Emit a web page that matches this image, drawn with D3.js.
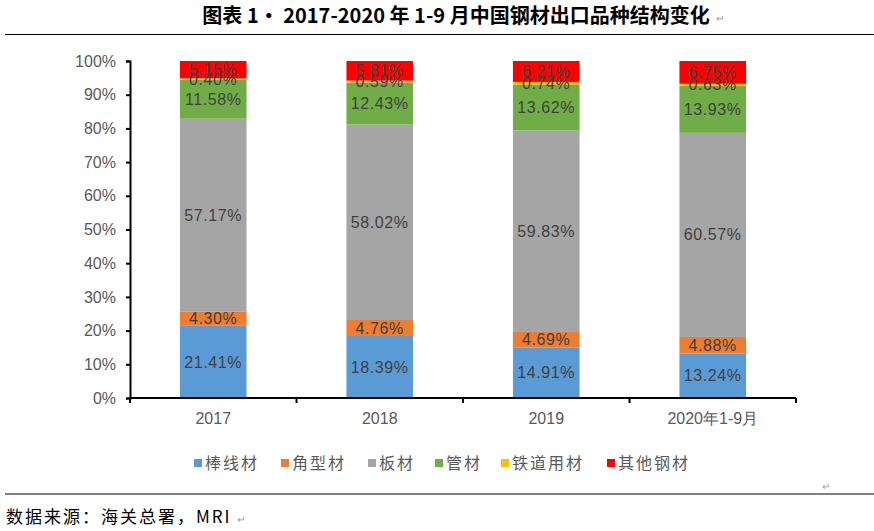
<!DOCTYPE html>
<html>
<head>
<meta charset="utf-8">
<title>2017-2020年1-9月中国钢材出口品种结构变化</title>
<script src="https://cdn.jsdelivr.net/npm/d3@7"></script>
<style>
  body { margin: 0; background: #fff; }
  svg text { font-family: "Liberation Sans", Arial, sans-serif; }
  .cjk { font-family: "Noto Sans CJK SC", sans-serif; }
</style>
</head>
<body>
<div id="chart"></div>
<script>
// categories and series (share of exports, %)
var years = ["2017", "2018", "2019", "2020年1-9月"];
var seriesNames = ["棒线材", "角型材", "板材", "管材", "铁道用材", "其他钢材"];
var seriesColors = ["#5B9BD5", "#ED7D31", "#A5A5A5", "#70AD47", "#FFC000", "#FF0000"];
var bar = [21.41, 18.39, 14.91, 13.24];      // 棒线材
var angle = [4.30, 4.76, 4.69, 4.88];        // 角型材
var plate = [57.17, 58.02, 59.83, 60.57];    // 板材
var pipe = [11.58, 12.43, 13.62, 13.93];     // 管材
var rail = [0.40, 0.59, 0.74, 0.63];         // 铁道用材
var other = [5.15, 5.81, 6.21, 6.75];        // 其他钢材
var yTicks = [0, 10, 20, 30, 40, 50, 60, 70, 80, 90, 100];

var W = 874, H = 531;
var svg = d3.select("#chart").append("svg").attr("width", W).attr("height", H);

// title + rules
svg.append("text").attr("class", "cjk")
  .attr("x", 456).attr("y", 23).attr("text-anchor", "middle")
  .attr("font-size", 20).attr("font-weight", "bold").attr("fill", "#000")
  .text("图表 1· 2017-2020 年 1-9 月中国钢材出口品种结构变化");
svg.append("text").attr("x", 716).attr("y", 22).attr("font-size", 10).attr("fill", "#999").text("↵");
svg.append("line").attr("x1", 5).attr("x2", W).attr("y1", 34.5).attr("y2", 34.5)
  .attr("stroke", "#000").attr("stroke-width", 1);

// scales
var x = d3.scaleBand().domain(years).range([130, 796]).paddingInner(0.6).paddingOuter(0.3);
var y = d3.scaleLinear().domain([0, 100]).range([398, 61]);

// build stack rows
var rows = years.map(function(yr, i) {
  return { year: yr, s0: bar[i], s1: angle[i], s2: plate[i], s3: pipe[i], s4: rail[i], s5: other[i] };
});
var keys = ["s0", "s1", "s2", "s3", "s4", "s5"];
var stacked = d3.stack().keys(keys)(rows);

var layers = svg.append("g").selectAll("g").data(stacked).enter().append("g")
  .attr("fill", function(d, i) { return seriesColors[i]; });
layers.selectAll("rect").data(function(d) { return d; }).enter().append("rect")
  .attr("x", function(d) { return x(d.data.year); })
  .attr("width", x.bandwidth())
  .attr("y", function(d) { return y(d[1]); })
  .attr("height", function(d) { return y(d[0]) - y(d[1]); });

// data labels (centered in each segment, they overlap at the top as in the source)
var labels = svg.append("g");
stacked.forEach(function(layer) {
  layer.forEach(function(d) {
    labels.append("text")
      .attr("x", x(d.data.year) + x.bandwidth() / 2)
      .attr("y", y((d[0] + d[1]) / 2))
      .attr("dy", "0.35em")
      .attr("text-anchor", "middle")
      .attr("font-size", 16)
      .attr("letter-spacing", 0.6)
      .attr("fill", "#404040")
      .text(d.data[layer.key].toFixed(2) + "%");
  });
});

// axes
var yAxis = svg.append("g").attr("transform", "translate(130,0)")
  .call(d3.axisLeft(y).tickValues(yTicks).tickSize(4).tickPadding(10)
    .tickFormat(function(d) { return d + "%"; }));
var xAxis = svg.append("g").attr("transform", "translate(0,398)")
  .call(d3.axisBottom(x).tickSize(0).tickPadding(15));
[yAxis, xAxis].forEach(function(a) {
  a.select(".domain").attr("stroke", "#000").attr("stroke-width", 2);
  a.selectAll(".tick line").attr("stroke", "#000").attr("stroke-width", 2);
  a.selectAll("text").attr("font-size", 16).attr("fill", "#595959")
    .attr("font-family", "'Liberation Sans', 'Noto Sans CJK SC', sans-serif");
});
xAxis.select(".domain").remove();
// x baseline with category boundary ticks
svg.append("line").attr("x1", 130).attr("x2", 796).attr("y1", 398).attr("y2", 398)
  .attr("stroke", "#000").attr("stroke-width", 2);
svg.append("g").selectAll("line").data(d3.range(years.length + 1)).enter().append("line")
  .attr("x1", function(i) { return 130 + i * x.step(); })
  .attr("x2", function(i) { return 130 + i * x.step(); })
  .attr("y1", 398).attr("y2", 403)
  .attr("stroke", "#000").attr("stroke-width", 2);

// legend
var legendX = [194, 281, 368, 435, 501, 607];
var lg = svg.append("g").selectAll("g").data(seriesNames).enter().append("g")
  .attr("transform", function(d, i) { return "translate(" + legendX[i] + ",463)"; });
lg.append("rect").attr("x", 0).attr("y", -4).attr("width", 8).attr("height", 8)
  .attr("fill", function(d, i) { return seriesColors[i]; });
lg.append("text").attr("class", "cjk").attr("x", 11).attr("dy", "0.35em")
  .attr("font-size", 16).attr("letter-spacing", 2).attr("fill", "#595959")
  .text(function(d) { return d; });

// footer
svg.append("text").attr("x", 822).attr("y", 490).attr("font-size", 10).attr("fill", "#999").text("↵");
svg.append("line").attr("x1", 5).attr("x2", W).attr("y1", 494).attr("y2", 494)
  .attr("stroke", "#000").attr("stroke-width", 1);
svg.append("text").attr("class", "cjk").attr("x", 6).attr("y", 523)
  .attr("font-size", 17).attr("letter-spacing", 2).attr("fill", "#000")
  .text("数据来源：海关总署，MRI");
svg.append("text").attr("x", 237).attr("y", 523).attr("font-size", 10).attr("fill", "#999").text("↵");
</script>
</body>
</html>
